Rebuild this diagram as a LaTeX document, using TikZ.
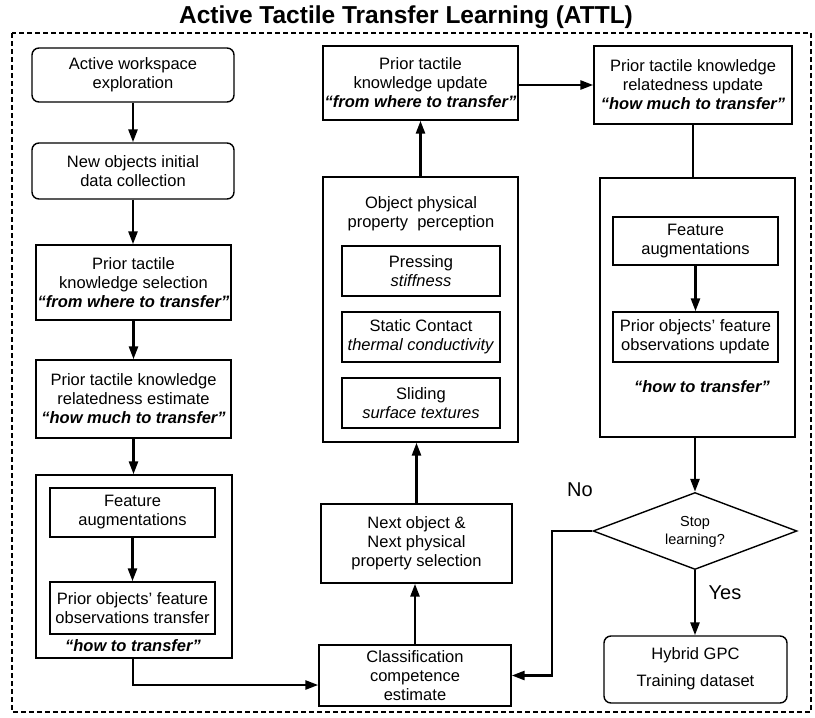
\documentclass[tikz,border=0pt]{standalone}
\usepackage{fontspec}
\setmainfont{Liberation Sans}
\usetikzlibrary{arrows.meta,shapes.geometric}
\newcommand{\fmain}{\fontsize{16.5}{19}\selectfont}
\newcommand{\bq}[1]{\textbf{\textit{#1}}}
\begin{document}
\begin{tikzpicture}[x=1pt,y=-1pt,
  every node/.style={inner sep=0pt,align=center,font=\fmain},
  box/.style={draw,line width=1.4pt,rectangle},
  rbox/.style={box,rounded corners=7pt},
  arr/.style={line width=2.6pt,-{Triangle[length=13pt,width=9pt]}},
  ln/.style={line width=2.6pt},
  lbl/.style={font=\fontsize{20}{23}\selectfont}]
\useasboundingbox (0,0) rectangle (815,718);
\node[font=\fontsize{24.5}{28}\bfseries\selectfont] (title) at (406,17) {Active Tactile Transfer Learning (ATTL)};
\draw[line width=1.3pt,dash pattern=on 5pt off 3pt] (12,33) rectangle (811,712);
% left column
\node[rbox,minimum width=202,minimum height=54] (b1) at (133,75) {Active workspace\\exploration};
\node[rbox,minimum width=202,minimum height=56] (b2) at (133,171) {New objects initial\\data collection};
\node[box,minimum width=195,minimum height=75] (b3) at (133.5,282.5) {Prior tactile\\knowledge selection\\\bq{“from where to transfer”}};
\node[box,minimum width=195,minimum height=78] (b4) at (133.5,399) {Prior tactile knowledge\\relatedness estimate\\\bq{“how much to transfer”}};
\node[box,minimum width=196,minimum height=183] (b5) at (134,566.5) {};
\node[box,minimum width=165,minimum height=49] (b5a) at (132.5,512.5) {Feature\\augmentations};
\node[box,minimum width=165,minimum height=52] (b5b) at (132.5,608) {Prior objects’ feature\\observations transfer};
\node (b5t) at (133,646) {\bq{“how to transfer”}};
% middle column
\node[box,minimum width=195,minimum height=74] (m1) at (420.5,83) {Prior tactile\\knowledge update\\\bq{“from where to transfer”}};
\node[box,minimum width=195,minimum height=265] (m2) at (420.5,309.5) {};
\node (m2t) at (421,213.5) {Object physical\\property\ \ perception};
\node[box,minimum width=158,minimum height=50] (p1) at (421,271) {Pressing\\\textit{stiffness}};
\node[box,minimum width=158,minimum height=50] (p2) at (421,337) {Static Contact\\\textit{thermal conductivity}};
\node[box,minimum width=158,minimum height=50] (p3) at (421,403) {Sliding\\\textit{surface textures}};
\node[box,minimum width=191,minimum height=79] (m3) at (416.5,543.5) {Next object \&\\Next physical\\property selection};
\node[box,minimum width=192,minimum height=61] (m4) at (415,675.5) {Classification\\competence\\estimate};
% right column
\node[box,minimum width=198,minimum height=78] (r1) at (693,85) {Prior tactile knowledge\\relatedness update\\\bq{“how much to transfer”}};
\node[box,minimum width=195,minimum height=259] (r2) at (697.5,307.5) {};
\node[box,minimum width=165,minimum height=48] (r2a) at (695.5,241) {Feature\\augmentations};
\node[box,minimum width=165,minimum height=50] (r2b) at (695.5,337) {Prior objects’ feature\\observations update};
\node (r2t) at (702,387) {\bq{“how to transfer”}};
\node[diamond,draw,line width=1.4pt,minimum width=204,minimum height=77] (d) at (695,531) {};
\node[font=\fontsize{14.5}{18}\selectfont] (dt) at (695,532) {Stop\\learning?};
\node[rbox,minimum width=183,minimum height=67] (hy) at (695.5,669.5) {};
\node[font=\fontsize{16.5}{27}\selectfont] (hyt) at (695.5,669) {Hybrid GPC\\Training dataset};
\node[lbl] (no) at (580,490) {No};
\node[lbl] (yes) at (725,593) {Yes};
% connectors
\draw[arr] (b1.south) -- (b2.north);
\draw[arr] (b2.south) -- (b2.south |- b3.north);
\draw[arr] (b3.south) -- (b3.south |- b4.north);
\draw[arr] (b4.south) -- (b4.south |- b5.north);
\draw[arr] (b5a.south) -- (b5b.north);
\coordinate (c1) at (133,685);
\draw[arr] (b5.south -| c1) -- (c1) -- (m4.west |- c1);
\draw[arr] (m4.north) -- (m4.north |- m3.south);
\draw[arr] (m3.north) -- (m3.north |- m2.south);
\draw[arr] (m2.south |- m2.north) -- (m1.south);
\draw[arr] (m1.east |- r1.west) -- (r1.west);
\draw[ln] (r2.north -| r1.south) -- (r1.south);
\draw[arr] (r2a.south) -- (r2b.north);
\draw[arr] (d.north |- r2.south) -- (d.north);
\draw[arr] (d.south) -- (d.south |- hy.north);
\coordinate (c2) at (552,675.5);
\draw[arr] (d.west) -| (c2) -- (m4.east);
\end{tikzpicture}
\end{document}
